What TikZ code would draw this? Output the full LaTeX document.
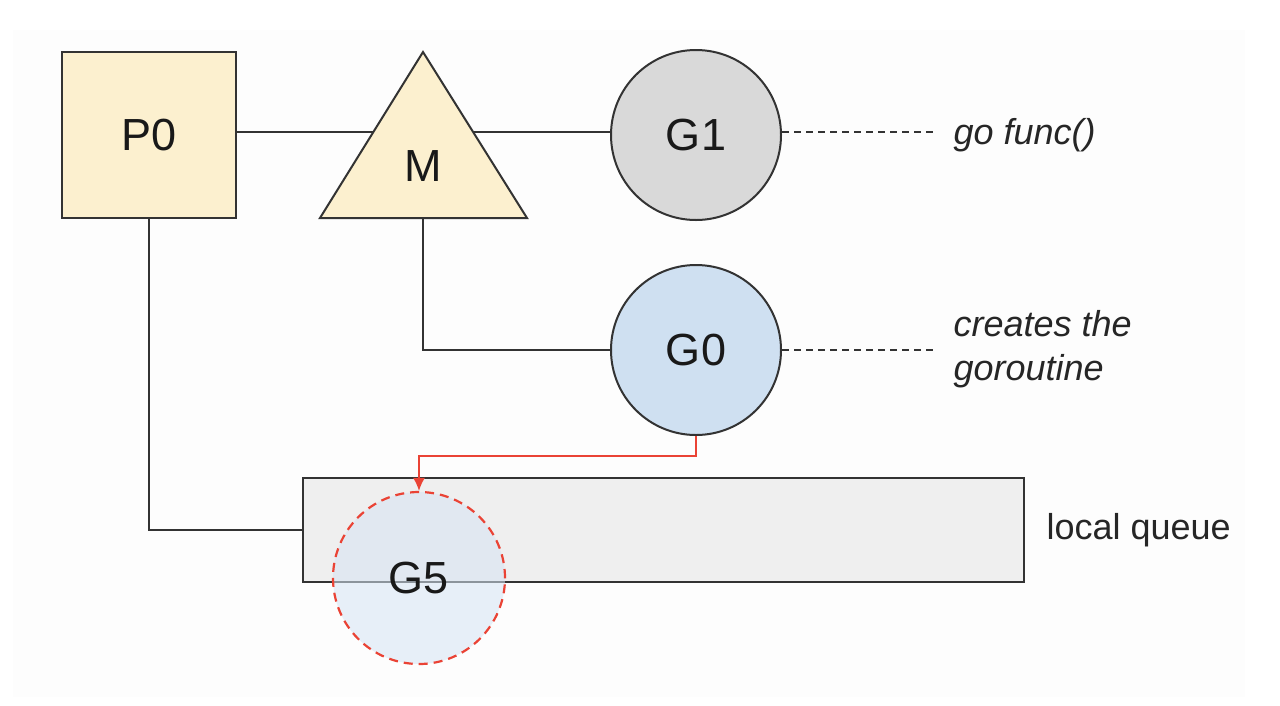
\documentclass[tikz,border=0pt]{standalone}
\usepackage{fontspec}
\setmainfont{Liberation Sans}
\usetikzlibrary{arrows.meta}
\definecolor{cream}{HTML}{FCF0CF}
\definecolor{gone}{HTML}{D9D9D9}
\definecolor{gzero}{HTML}{CFE0F1}
\definecolor{qfill}{HTML}{EFEFEF}
\definecolor{gfive}{HTML}{D6E4F4}
\definecolor{redline}{HTML}{EA4335}
\definecolor{edge}{HTML}{333333}
\tikzset{
  conn/.style={draw=edge, line width=2pt},
  dashconn/.style={draw=edge, line width=1.8pt, dash pattern=on 7pt off 5pt},
  bignode/.style={font=\fontsize{45}{48}\selectfont, text=black!90},
  lbl/.style={font=\fontsize{36}{44}\selectfont, text=black!85, anchor=west, align=left},
  gcircle/.style={circle, draw=edge, line width=2pt, minimum size=170pt, inner sep=0pt, bignode},
}
\begin{document}
\begin{tikzpicture}[x=1pt,y=-1pt]
\useasboundingbox (0,0) rectangle (1280,705);
\fill[black!0.6] (13,30) rectangle (1245,697);
% nodes
\node[draw=edge, line width=2pt, fill=cream, minimum width=174pt, minimum height=166pt, inner sep=0pt, bignode] (P0) at (149,135) {P0};
\node[gcircle, fill=gone] (G1) at (696,135) {G1};
\node[gcircle, fill=gzero] (G0) at (696,350) {G0};
\coordinate (Mtop) at (423,52);
\coordinate (Mbot) at (423,218);
% connectors behind
\draw[conn] (P0.east |- 0,132) -- (G1.west |- 0,132);
\fill[cream] (320,218) -- (Mtop) -- (527,218) -- cycle;
\draw[conn, line join=miter] (320,218) -- (Mtop) -- (527,218) -- cycle;
\node[bignode] (M) at (423,166) {M};
\draw[conn] (Mbot) |- (G0.west);
% queue
\node[draw=edge, line width=2pt, fill=qfill, minimum width=721pt, minimum height=104pt, inner sep=0pt] (Q) at (663.5,530) {};
\draw[conn] (P0.south) |- (Q.west);
% G5
\node[circle, draw=redline, line width=2.2pt, dash pattern=on 9pt off 6pt, fill=gfive, fill opacity=0.55, text opacity=1, minimum size=172pt, inner sep=0pt, bignode] (G5) at (419,578) {G5};
% red arrow
\coordinate (turn) at (696,456);
\draw[draw=redline, line width=1.8pt, -{Latex[length=13pt,width=12pt]}] (G0.south) -- (turn) -| (G5.north);
% dashed leaders and labels
\node[lbl] (t1) at (950,135) {\itshape go func()};
\node[lbl] (t2) at (950,349) {\itshape creates the\\\itshape goroutine};
\node[lbl] (t3) at (1043,530) {local queue};
\coordinate (d1) at (935,132);
\coordinate (d2) at (935,350);
\draw[dashconn] (G1.east |- d1) -- (d1);
\draw[dashconn] (G0.east |- d2) -- (d2);
\end{tikzpicture}
\end{document}
